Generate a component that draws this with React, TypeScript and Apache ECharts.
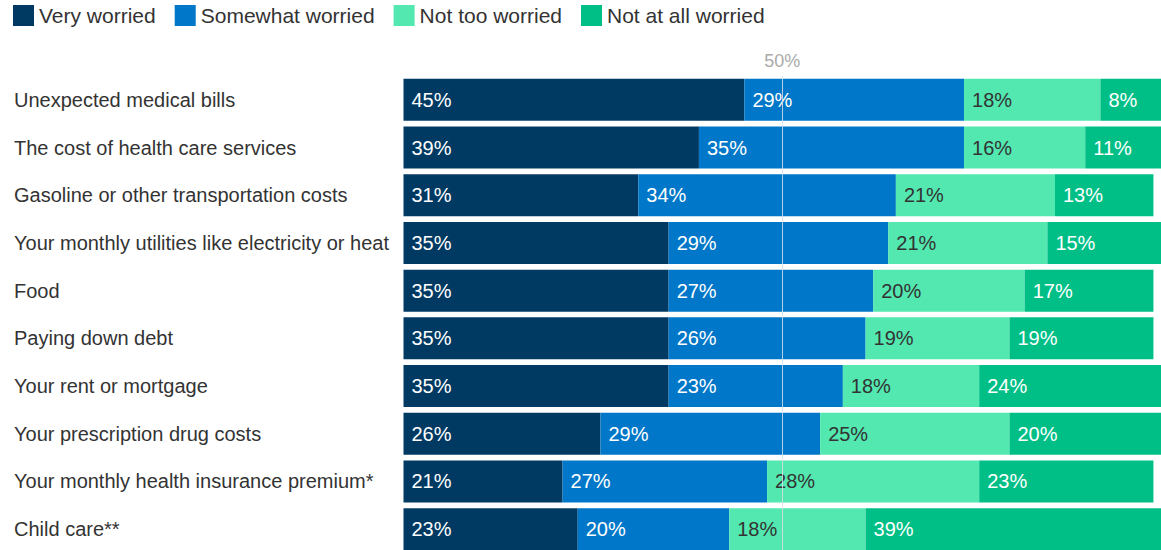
import React, { useEffect, useRef } from "react";
import * as echarts from "echarts";

const categories = [
  "Unexpected medical bills",
  "The cost of health care services",
  "Gasoline or other transportation costs",
  "Your monthly utilities like electricity or heat",
  "Food",
  "Paying down debt",
  "Your rent or mortgage",
  "Your prescription drug costs",
  "Your monthly health insurance premium*",
  "Child care**",
];
const seriesNames = ["Very worried", "Somewhat worried", "Not too worried", "Not at all worried"];
const veryWorried = [45, 39, 31, 35, 35, 35, 35, 26, 21, 23];
const somewhatWorried = [29, 35, 34, 29, 27, 26, 23, 29, 27, 20];
const notTooWorried = [18, 16, 21, 21, 20, 19, 18, 25, 28, 18];
const notAtAllWorried = [8, 11, 13, 15, 17, 19, 24, 20, 23, 39];
const referenceLine = 50;
const colors = ["#003a63", "#0077c8", "#52e8b0", "#00bf86"];
const labelColors = ["#ffffff", "#ffffff", "#333333", "#ffffff"];

const FONT = "'Liberation Sans', Arial, Helvetica, sans-serif";

export default function App() {
  const ref = useRef<HTMLDivElement>(null);
  useEffect(() => {
    if (!ref.current) return;
    const chart = echarts.init(ref.current, undefined, { renderer: "svg" });
    const datasets = [veryWorried, somewhatWorried, notTooWorried, notAtAllWorried];
    const series: any[] = datasets.map((d, i) => ({
      name: seriesNames[i],
      type: "bar",
      stack: "total",
      data: d,
      barWidth: 42,
      itemStyle: { color: colors[i] },
      label: {
        show: true,
        position: "insideLeft",
        distance: 8,
        formatter: "{c}%",
        color: labelColors[i],
        fontSize: 20,
        fontFamily: FONT,
      },
    }));
    series[3].markLine = {
      silent: true,
      symbol: "none",
      z: 10,
      lineStyle: { color: "rgba(215,222,230,0.85)", type: "solid", width: 1 },
      label: {
        show: true,
        position: "start",
        formatter: referenceLine + "%",
        color: "#aaaaaa",
        fontSize: 18,
        fontFamily: FONT,
        distance: 6,
      },
      data: [{ xAxis: referenceLine }],
    };
    chart.setOption({
      animation: false,
      textStyle: { fontFamily: FONT },
      legend: {
        left: 8,
        top: 0,
        itemWidth: 21,
        itemHeight: 21,
        itemGap: 19,
        icon: "rect",
        textStyle: { fontSize: 21, color: "#333333", fontFamily: FONT },
        data: seriesNames,
      },
      grid: { left: 403.5, right: 0, top: 76, bottom: 17 },
      xAxis: {
        type: "value",
        min: 0,
        max: 100,
        show: false,
      },
      yAxis: {
        type: "category",
        data: categories,
        inverse: true,
        axisLine: { show: false },
        axisTick: { show: false },
        axisLabel: {
          align: "left",
          margin: 389.5,
          fontSize: 20,
          color: "#333333",
          fontFamily: FONT,
        },
      },
      series,
    });
    return () => chart.dispose();
  }, []);
  return (
    <div style={{ position: "fixed", left: 0, top: 0, width: 1161, height: 550, overflow: "hidden", background: "#fff" }}>
      <div ref={ref} style={{ width: 1161, height: 570 }} />
    </div>
  );
}
